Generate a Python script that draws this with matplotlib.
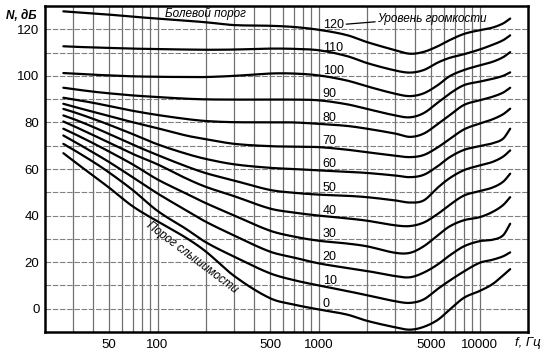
import matplotlib
matplotlib.use("Agg")
import matplotlib.pyplot as plt
import numpy as np

plt.rcParams['font.family'] = ['Liberation Sans', 'DejaVu Sans']

# frequency grid (Hz) at which each equal-loudness curve was read
freqs = [26, 30, 40, 50, 70, 100, 150, 200, 300, 500, 700, 1000, 1500, 2000,
         3000, 3700, 4500, 5500, 6500, 8000, 10000, 12000, 14000, 15500]

# loudness levels (phon) of the curves
levels = [120, 110, 100, 90, 80, 70, 60, 50, 40, 30, 20, 10, 0]

# sound pressure level N, dB, for each curve at the frequencies above
curve_120 = [127.7, 127.4, 126.8, 126.3, 125.4, 124.6, 123.7, 123.0, 121.8, 121.5, 121.0, 119.8,
             117.5, 114.5, 111.0, 109.5, 110.3, 112.7, 115.3, 118.0, 119.6, 120.7, 122.5, 124.6]
curve_110 = [112.7, 112.5, 112.2, 112.0, 111.7, 111.5, 111.3, 111.2, 111.3, 111.7, 111.6, 111.0,
             108.5, 105.5, 102.3, 101.4, 102.5, 105.7, 107.7, 109.3, 111.3, 113.3, 115.3, 117.4]
curve_100 = [101.2, 101.0, 100.5, 100.2, 99.8, 99.6, 99.5, 99.5, 100.0, 101.0, 101.0, 100.2,
             98.0, 95.5, 92.3, 91.3, 92.5, 96.0, 99.8, 102.5, 104.5, 106.0, 108.0, 110.2]
curve_90 = [94.9, 94.3, 93.2, 92.5, 91.6, 90.9, 90.2, 89.9, 89.8, 89.8, 89.8, 89.5,
            87.8, 85.8, 83.0, 82.2, 84.0, 88.5, 92.3, 96.0, 97.5, 98.7, 100.0, 101.5]
curve_80 = [90.6, 89.9, 88.4, 87.0, 85.0, 83.2, 81.5, 80.6, 80.1, 80.1, 80.0, 79.4,
            78.5, 77.3, 75.2, 73.8, 75.2, 79.3, 83.0, 87.5, 89.5, 91.0, 92.8, 94.9]
curve_70 = [88.0, 86.8, 84.5, 82.7, 80.1, 77.5, 74.4, 72.8, 70.8, 69.8, 69.6, 69.4,
            68.3, 67.2, 65.7, 65.1, 66.0, 69.3, 72.8, 77.0, 79.5, 81.3, 83.5, 85.9]
curve_60 = [85.8, 84.5, 81.5, 79.0, 75.0, 70.6, 66.6, 64.3, 62.0, 60.5, 60.0, 59.4,
            58.8, 58.3, 57.2, 56.5, 57.5, 61.2, 65.0, 68.2, 69.8, 71.0, 73.0, 77.3]
curve_50 = [83.0, 81.5, 78.0, 75.0, 70.5, 66.0, 61.2, 58.2, 55.0, 51.0, 49.8, 49.0,
            48.5, 47.9, 46.5, 45.6, 46.5, 52.0, 56.0, 59.5, 61.5, 63.0, 65.3, 68.0]
curve_40 = [80.4, 78.5, 74.5, 71.3, 66.5, 62.0, 56.0, 52.3, 48.3, 43.0, 41.3, 40.0,
            38.8, 37.8, 35.8, 35.5, 37.0, 40.7, 44.5, 48.6, 50.5, 52.0, 54.5, 58.0]
curve_30 = [77.3, 75.3, 71.0, 67.5, 62.0, 55.5, 49.5, 45.3, 40.0, 33.5, 31.0, 29.2,
            28.0, 26.8, 24.0, 24.0, 26.8, 31.5, 35.3, 38.0, 39.3, 41.5, 44.5, 47.9]
curve_20 = [74.4, 72.0, 67.0, 63.0, 56.5, 49.5, 42.3, 37.3, 31.4, 24.5, 22.0, 19.5,
            17.5, 16.2, 14.0, 13.5, 15.5, 19.0, 22.8, 26.8, 29.0, 29.6, 31.5, 36.5]
curve_10 = [70.8, 68.3, 63.0, 58.5, 51.0, 42.0, 34.3, 28.5, 22.3, 15.2, 12.3, 10.0,
            7.6, 5.8, 3.2, 2.5, 4.0, 8.5, 12.0, 16.0, 19.7, 21.0, 22.5, 24.2]
curve_0 = [66.8, 63.5, 57.0, 52.0, 44.0, 37.5, 30.5, 24.5, 14.0, 4.5, 1.8, -0.3,
           -2.5, -5.2, -8.0, -9.0, -7.8, -4.8, -0.5, 4.7, 7.6, 10.5, 14.3, 17.0]

curves = [curve_120, curve_110, curve_100, curve_90, curve_80, curve_70, curve_60,
          curve_50, curve_40, curve_30, curve_20, curve_10, curve_0]

x_tick_values = [50, 100, 500, 1000, 5000, 10000]
x_tick_labels = ['50', '100', '500', '1000', '5000', '10000']
y_tick_values = [0, 20, 40, 60, 80, 100, 120]


def smooth_line(xs, ys, n=12):
    """Cubic Hermite rendering of the read points (in log-frequency)."""
    lx = np.log10(np.asarray(xs, float))
    y = np.asarray(ys, float)
    m = np.empty_like(y)
    m[1:-1] = (y[2:] - y[:-2]) / (lx[2:] - lx[:-2])
    m[0] = (y[1] - y[0]) / (lx[1] - lx[0])
    m[-1] = (y[-1] - y[-2]) / (lx[-1] - lx[-2])
    px, py = [], []
    for i in range(len(lx) - 1):
        h = lx[i + 1] - lx[i]
        t = np.linspace(0, 1, n, endpoint=False)
        h00 = 2 * t**3 - 3 * t**2 + 1
        h10 = t**3 - 2 * t**2 + t
        h01 = -2 * t**3 + 3 * t**2
        h11 = t**3 - t**2
        px.append(lx[i] + t * h)
        py.append(h00 * y[i] + h10 * h * m[i] + h01 * y[i + 1] + h11 * h * m[i + 1])
    px.append([lx[-1]])
    py.append([y[-1]])
    return 10 ** np.concatenate(px), np.concatenate(py)


fig = plt.figure(figsize=(5.51, 3.62), dpi=100)
ax = fig.add_axes([45 / 551, 30 / 362, (528 - 45) / 551, (332 - 6) / 362])
ax.set_xscale('log')
ax.set_xlim(20, 20000)
ax.set_ylim(-10, 130)

# grid
vgrid = [m * 10 ** e for e in (1, 2, 3) for m in range(1, 10)] + [10000]
vgrid = [v for v in vgrid if 25 < v <= 10000]
for v in vgrid:
    ax.axvline(v, color='#707070', lw=0.9, zorder=1)
for h in range(0, 130, 10):
    ax.axhline(h, color='#808080', lw=0.8, ls=(0, (5, 1.5)), zorder=1)

for lvl, vals in zip(levels, curves):
    sx, sy = smooth_line(freqs, vals)
    ax.plot(sx, sy, color='black', lw=1.6, solid_capstyle='round', zorder=3)
    ax.text(1060, lvl + 2, str(lvl), ha='left', va='center', fontsize=9, zorder=4)

ax.set_xticks(x_tick_values)
ax.set_xticklabels(x_tick_labels)
ax.xaxis.set_minor_locator(matplotlib.ticker.NullLocator())
ax.set_yticks(y_tick_values)
ax.tick_params(length=0, labelsize=9.5)
ax.tick_params(axis='y', pad=4)
ax.tick_params(axis='x', pad=5)
for s in ax.spines.values():
    s.set_linewidth(1.8)

ax.text(-0.017, 0.97, 'N, дБ', transform=ax.transAxes, ha='right', va='center',
        fontsize=8.5, fontstyle='italic', fontweight='bold')
ax.text(1.0, -0.035, 'f, Гц', transform=ax.transAxes, ha='center', va='center',
        fontsize=9.5, fontstyle='italic')
ax.text(112, 126.6, 'Болевой порог', ha='left', va='center', fontsize=8.5, fontstyle='italic')
ax.text(2320, 124.3, 'Уровень громкости', ha='left', va='center', fontsize=8.5,
        fontstyle='italic')
ax.plot([1490, 2240], [122.2, 123.2], color='black', lw=0.9)
ax.text(164, 22, 'Порог слышимости', ha='center', va='center', fontsize=8.5,
        fontstyle='italic', rotation=-37)

fig.savefig('out.png', dpi=100)
